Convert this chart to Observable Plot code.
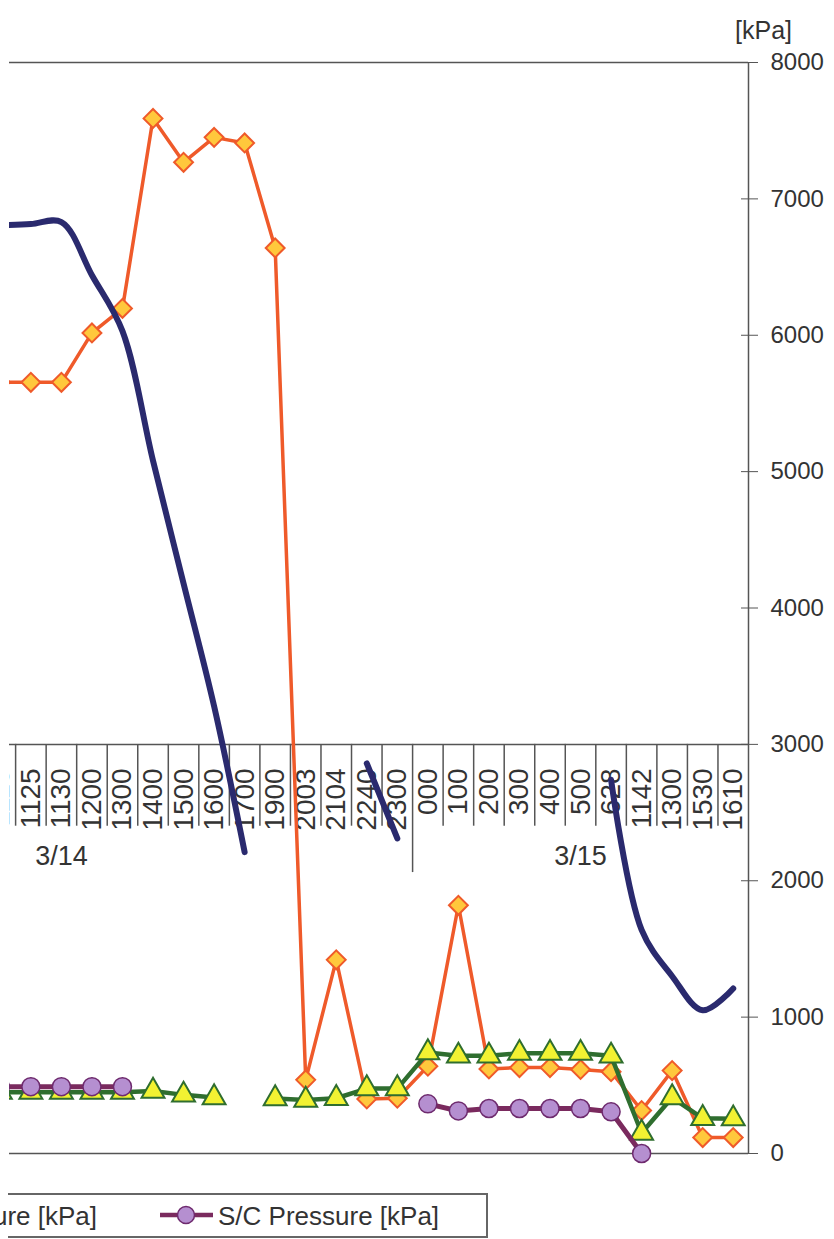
<!DOCTYPE html>
<html>
<head>
<meta charset="utf-8">
<script src="https://cdn.jsdelivr.net/npm/d3@7"></script>
<script src="https://cdn.jsdelivr.net/npm/@observablehq/plot@0.6"></script>
<style>
  html, body { margin: 0; padding: 0; background: #fff; overflow: hidden; }
  #chart svg { display: block; }
  #legend { display: block; }
</style>
</head>
<body>
<div id="chart"></div>
<svg id="legend" width="834" height="49">
  <rect x="7" y="4" width="480" height="43" fill="none" stroke="#666" stroke-width="2"></rect>
  <rect x="0" y="3" width="8" height="46" fill="#fff"></rect>
  <line x1="8" y1="4" x2="487" y2="4" stroke="#666" stroke-width="2"></line>
  <line x1="8" y1="47" x2="487" y2="47" stroke="#666" stroke-width="2"></line>
  <text x="97" y="35" text-anchor="end" font-family="Liberation Sans, Arial, sans-serif" font-size="26" fill="#333">D/W Pressure [kPa]</text>
  <line x1="160" y1="25" x2="213" y2="25" stroke="#7a2a5e" stroke-width="4.5"></line>
  <circle cx="186" cy="25" r="8.5" fill="#b58fd0" stroke="#6e2a6e" stroke-width="1.5"></circle>
  <text x="218" y="35" font-family="Liberation Sans, Arial, sans-serif" font-size="26" fill="#333">S/C Pressure [kPa]</text>
</svg>
<script>
// Time categories (first one is cut off at the left edge of the picture)
const categories = ["1115","1125","1130","1200","1300","1400","1500","1600","1700","1900","2003","2104","2240","2300","000","100","200","300","400","500","628","1142","1300","1530","1610"];
const dayOf      = ["3/14","3/14","3/14","3/14","3/14","3/14","3/14","3/14","3/14","3/14","3/14","3/14","3/14","3/14","3/15","3/15","3/15","3/15","3/15","3/15","3/15","3/15","3/15","3/15","3/15"];
// number of 3/14 categories that lie beyond the cropped left edge
const hiddenBefore = 9;

// Orange diamonds [kPa]
const rpvPressure = [5655,5655,5655,6017,6197,7590,7268,7451,7410,6640,540,1420,400,405,640,1820,620,630,630,616,600,315,608,117,117];
// Green triangles [kPa]
const dwPressure  = [450,450,450,450,450,458,430,410,null,403,392,405,476,476,740,716,716,735,735,735,716,150,410,258,255];
// Purple circles [kPa]
const scPressure  = [490,490,490,490,490,null,null,null,null,null,null,null,null,null,364,312,330,330,330,330,306,0,null,null,null];
// Navy smooth line
const navyLine    = [6805,6815,6830,6440,6030,5080,4180,3280,2210,null,null,null,2860,2310,null,null,null,null,null,null,2740,1640,1300,1050,1210];

const yTicks = d3.range(0, 8001, 1000);

const rows = categories.map((c, i) => ({
  i, c, day: dayOf[i],
  rpv: rpvPressure[i], dw: dwPressure[i], sc: scPressure[i], navy: navyLine[i]
}));

// day group labels centred on their category groups
const dayNames = Array.from(new Set(dayOf));
const dayLabels = dayNames.map(d => {
  const idx = d3.range(categories.length).filter(i => dayOf[i] === d);
  let lo = d3.min(idx), hi = d3.max(idx);
  if (lo === 0) lo -= hiddenBefore;
  return {day: d, pos: (lo + hi) / 2};
});
const boundary = d3.max(d3.range(categories.length).filter(i => dayOf[i] === dayNames[0]));
const n = categories.length;

const font = "Liberation Sans, Arial, sans-serif";
const axisColor = "#555";

const chart = Plot.plot({
  width: 834,
  height: 1190,
  marginLeft: 9,
  marginRight: 86,
  marginTop: 0,
  marginBottom: 0,
  style: {fontFamily: font, fontSize: "24px", color: "#333", background: "#fff"},
  x: {type: "linear", domain: [0.3, n - 0.5], axis: null},
  y: {domain: [0, 8000], range: [1153, 62], label: null},
  marks: [
    // horizontal frame lines (0, category axis at 3000, top 8000)
    Plot.ruleY([0, 3000, 8000], {stroke: axisColor, strokeWidth: 1.5}),
    // category separators
    Plot.ruleX(d3.range(n - 1), {
      x: i => i + 0.5, y1: 3000, y2: i => i === boundary ? 2060 : 2400,
      stroke: axisColor, strokeWidth: 1.5, clip: true
    }),
    // right value axis line
    Plot.ruleX([n - 0.5], {y1: 0, y2: 8000, stroke: axisColor, strokeWidth: 1.5}),
    Plot.axisY(yTicks, {
      anchor: "right", tickSize: 17, dx: -8, tickPadding: 13,
      tickFormat: "d", label: null, stroke: axisColor, fontSize: 24, fill: "#333"
    }),
    Plot.text(["[kPa]"], {text: d => d, frameAnchor: "top-right", textAnchor: "middle", dx: 15, dy: 21, fontSize: 25, fill: "#333"}),
    // category labels
    Plot.text(rows, {
      x: "i", y: 3000, text: "c", rotate: -90, textAnchor: "end", dy: 24,
      fontSize: 28, fontFamily: "Liberation Sans Narrow, Liberation Sans, Arial, sans-serif",
      fill: "#333", clip: true
    }),
    Plot.text(dayLabels, {x: "pos", y: 3000, dy: 112, text: "day", fontSize: 27, fill: "#333"}),
    // orange series
    Plot.line(rows, {x: "i", y: "rpv", stroke: "#ef5a2a", strokeWidth: 3.5, clip: true}),
    Plot.dot(rows, {x: "i", y: "rpv", symbol: "diamond2", r: 8.5, fill: "#ffc83c", stroke: "#ef5a2a", strokeWidth: 2, clip: true}),
    // green series
    Plot.line(rows, {x: "i", y: "dw", stroke: "#2f6e2f", strokeWidth: 4.5, clip: true}),
    Plot.dot(rows, {x: "i", y: "dw", symbol: "triangle", r: 8.5, fill: "#f2f232", stroke: "#2f6e2f", strokeWidth: 2, clip: true}),
    // purple series
    Plot.line(rows, {x: "i", y: "sc", stroke: "#7a2a5e", strokeWidth: 5, clip: true}),
    Plot.dot(rows, {x: "i", y: "sc", r: 9, fill: "#b58fd0", stroke: "#6e2a6e", strokeWidth: 1.5, clip: true}),
    // navy smooth line
    Plot.line(rows, {x: "i", y: "navy", curve: "catmull-rom", stroke: "#2a2a6e", strokeWidth: 6, clip: true})
  ]
});
document.getElementById("chart").appendChild(chart);
</script>
</body>
</html>
